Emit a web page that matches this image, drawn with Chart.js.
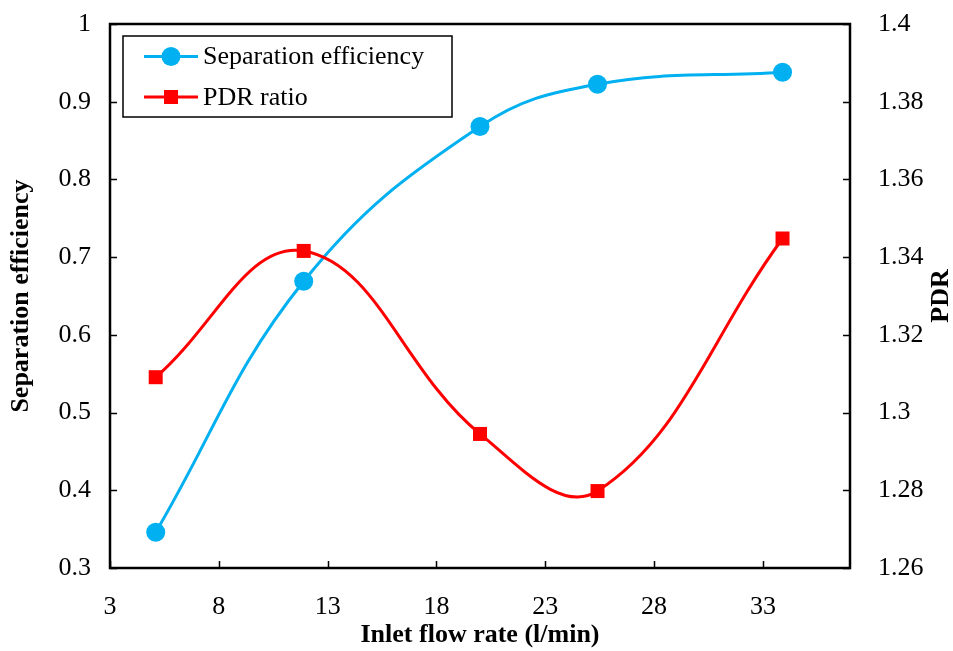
<!DOCTYPE html>
<html>
<head>
<meta charset="utf-8">
<script src="https://cdn.jsdelivr.net/npm/chart.js@4.4.1/dist/chart.umd.min.js"></script>
<style>
  html, body { margin: 0; padding: 0; background: #fff; }
  #wrap { width: 953px; height: 651px; }
</style>
</head>
<body>
<div id="wrap"><canvas id="chart" width="953" height="651"></canvas></div>
<script>
// flow rate (l/min)
const flowRates = [5.1, 11.9, 20.0, 25.4, 33.9];
const separationEfficiency = [0.346, 0.669, 0.868, 0.9225, 0.938];
const pdrRatio = [1.3091, 1.3416, 1.2945, 1.2798, 1.3448];

const xTickValues = [3, 8, 13, 18, 23, 28, 33];
const effTickValues = [0.3, 0.4, 0.5, 0.6, 0.7, 0.8, 0.9, 1];
const pdrTickValues = [1.26, 1.28, 1.3, 1.32, 1.34, 1.36, 1.38, 1.4];

const SERIF = "'Liberation Serif', 'Times New Roman', serif";
const FONT_SIZE = 26;
const BLUE = "#00B0F0";
const RED = "#FF0000";

const toPoints = (xs, ys) => xs.map((x, i) => ({ x: x, y: ys[i] }));
const fmt = (v) => String(+v.toFixed(2));

// fixed box sizes so the plot area lands at 110..850 x 24..568
const fixWidth = (w) => (s) => {
  s.width = w;
  s.paddingTop = 0;
  s.paddingBottom = 0;
};

// frame around plot area + tick marks pointing inward
const framePlugin = {
  id: "frame",
  beforeDatasetsDraw(chart) {
    const { ctx, chartArea: a, scales } = chart;
    const len = 7;
    ctx.save();
    ctx.strokeStyle = "#000";
    ctx.lineWidth = 1.5;
    ctx.beginPath();
    xTickValues.forEach((v) => {
      const px = Math.round(scales.x.getPixelForValue(v)) + 0.5;
      ctx.moveTo(px, a.bottom);
      ctx.lineTo(px, a.bottom - len);
    });
    effTickValues.forEach((v) => {
      const py = Math.round(scales.y.getPixelForValue(v)) + 0.5;
      ctx.moveTo(a.left, py);
      ctx.lineTo(a.left + len, py);
    });
    pdrTickValues.forEach((v) => {
      const py = Math.round(scales.y1.getPixelForValue(v)) + 0.5;
      ctx.moveTo(a.right, py);
      ctx.lineTo(a.right - len, py);
    });
    ctx.stroke();
    ctx.lineWidth = 2.5;
    ctx.strokeRect(a.left, a.top, a.right - a.left, a.bottom - a.top);
    ctx.restore();
  },
};

// boxed legend with line + marker samples, and the right axis title
const legendPlugin = {
  id: "boxLegend",
  afterDatasetsDraw(chart) {
    const { ctx } = chart;
    const box = { x: 123, y: 36, w: 329, h: 81 };
    ctx.save();
    ctx.fillStyle = "#fff";
    ctx.fillRect(box.x, box.y, box.w, box.h);
    ctx.strokeStyle = "#000";
    ctx.lineWidth = 1.5;
    ctx.strokeRect(box.x, box.y, box.w, box.h);

    const rows = [56.5, 97];
    chart.data.datasets.forEach((ds, i) => {
      const y = rows[i];
      ctx.strokeStyle = ds.borderColor;
      ctx.lineWidth = 3;
      ctx.beginPath();
      ctx.moveTo(144, y);
      ctx.lineTo(198, y);
      ctx.stroke();
      ctx.fillStyle = ds.borderColor;
      if (ds.pointStyle === "rect") {
        ctx.fillRect(171 - 7, y - 7, 14, 14);
      } else {
        ctx.beginPath();
        ctx.arc(171, y, 9.5, 0, Math.PI * 2);
        ctx.fill();
      }
      ctx.fillStyle = "#000";
      ctx.font = FONT_SIZE + "px " + SERIF;
      ctx.textBaseline = "middle";
      ctx.textAlign = "left";
      ctx.fillText(ds.label, 203, y + 1);
    });

    ctx.translate(941, 296);
    ctx.rotate(-Math.PI / 2);
    ctx.font = "bold " + FONT_SIZE + "px " + SERIF;
    ctx.textAlign = "center";
    ctx.textBaseline = "middle";
    ctx.fillText("PDR", 0, 0);
    ctx.restore();
  },
};

const tickFont = { family: SERIF, size: FONT_SIZE };
const titleFont = { family: SERIF, size: FONT_SIZE, weight: "bold" };

new Chart(document.getElementById("chart"), {
  type: "line",
  data: {
    datasets: [
      {
        label: "Separation efficiency",
        data: toPoints(flowRates, separationEfficiency),
        yAxisID: "y",
        borderColor: BLUE,
        backgroundColor: BLUE,
        borderWidth: 3,
        pointStyle: "circle",
        pointRadius: 9.5,
        pointBorderWidth: 0,
        tension: 0.4,
        order: 1,
      },
      {
        label: "PDR ratio",
        data: toPoints(flowRates, pdrRatio),
        yAxisID: "y1",
        borderColor: RED,
        backgroundColor: RED,
        borderWidth: 3,
        pointStyle: "rect",
        pointRadius: 9.9,
        pointBorderWidth: 0,
        tension: 0.4,
        order: 0,
      },
    ],
  },
  options: {
    responsive: false,
    animation: false,
    layout: { padding: { top: 24, left: 0, right: 0, bottom: 0 } },
    plugins: {
      legend: { display: false },
      tooltip: { enabled: false },
    },
    scales: {
      x: {
        type: "linear",
        min: 3,
        max: 37,
        grid: { display: false },
        border: { display: false },
        afterBuildTicks: (s) => { s.ticks = xTickValues.map((v) => ({ value: v })); },
        afterFit: (s) => { s.height = 83; },
        ticks: {
          padding: 16,
          color: "#000",
          font: tickFont,
          maxRotation: 0,
          autoSkip: false,
          callback: (v) => fmt(v),
        },
        title: {
          display: true,
          text: "Inlet flow rate (l/min)",
          color: "#000",
          font: titleFont,
          padding: { top: 0, bottom: 0 },
        },
      },
      y: {
        type: "linear",
        position: "left",
        min: 0.3,
        max: 1,
        grid: { display: false },
        border: { display: false },
        afterBuildTicks: (s) => { s.ticks = effTickValues.map((v) => ({ value: v })); },
        afterFit: fixWidth(110),
        ticks: {
          padding: 11,
          color: "#000",
          font: tickFont,
          autoSkip: false,
          callback: (v) => fmt(v),
        },
        title: {
          display: true,
          text: "Separation efficiency",
          color: "#000",
          font: titleFont,
          padding: { top: 6, bottom: 0 },
        },
      },
      y1: {
        type: "linear",
        position: "right",
        min: 1.26,
        max: 1.4,
        grid: { display: false },
        border: { display: false },
        afterBuildTicks: (s) => { s.ticks = pdrTickValues.map((v) => ({ value: v })); },
        afterFit: fixWidth(103),
        ticks: {
          padding: 20,
          color: "#000",
          font: tickFont,
          autoSkip: false,
          callback: (v) => fmt(v),
        },
      },
    },
  },
  plugins: [framePlugin, legendPlugin],
});
</script>
</body>
</html>
